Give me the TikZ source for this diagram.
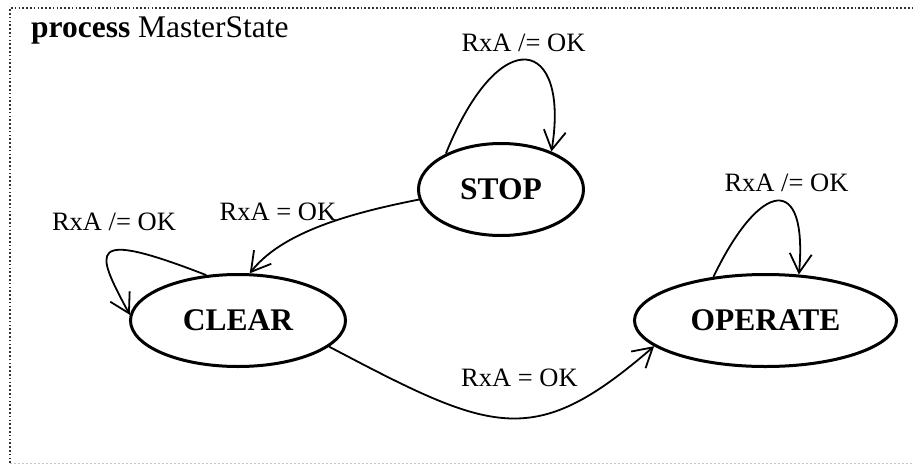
\documentclass[tikz,border=0pt]{standalone}
\usepackage{fontspec}
\setmainfont{Liberation Serif}
\usetikzlibrary{shapes.geometric,arrows.meta}
\begin{document}
\begin{tikzpicture}[x=1pt,y=-1pt,
  state/.style={ellipse,draw,line width=3pt,inner sep=0pt,minimum height=92pt,font=\fontsize{31.5}{36}\selectfont\bfseries},
  lbl/.style={inner sep=0pt,anchor=base,font=\fontsize{26.5}{30}\selectfont},
  trans/.style={line width=1.8pt,-{Straight Barb[length=19pt,width=22pt,line width=1.8pt]}},
  frame/.style={line width=1.7pt,black!80,dash pattern=on 1.7pt off 2.1pt}]
\useasboundingbox (0,0) rectangle (913,464);
\draw[frame] (10,463) -- (10,8) -- (913,8);
\draw[gray!45,line width=1pt,dash pattern=on 2pt off 2pt] (10,463) -- (913,463);
\node[anchor=base west,inner sep=0pt,font=\fontsize{31.5}{36}\selectfont] (title) at (31,37.5) {\textbf{process} MasterState};
\node[state,minimum width=165pt] (stop) at (501,189.5) {STOP};
\node[state,minimum width=215pt] (clear) at (238,320.5) {CLEAR};
\node[state,minimum width=262pt] (operate) at (765.5,320.5) {OPERATE};
\draw[trans] (stop.147.6) .. controls (500,20) and (570,38) .. (stop.37);
\draw[trans] (stop.187) .. controls (340,215) and (280,235) .. (clear.76);
\draw[trans] (clear.125) .. controls (85,228) and (95,250) .. (clear.177);
\draw[trans] (operate.140) .. controls (760,180) and (808,172) .. (operate.54);
\draw[trans] (clear.-16) .. controls (493,433) and (533,451) .. (operate.-167);
\node[lbl] (l1) at (523.5,51.7) {RxA /= OK};
\node[lbl] (l2) at (114,230) {RxA /= OK};
\node[lbl] (l3) at (278,220) {RxA = OK};
\node[lbl] (l4) at (786.5,191.7) {RxA /= OK};
\node[lbl] (l5) at (519.5,386.7) {RxA = OK};
\end{tikzpicture}
\end{document}
